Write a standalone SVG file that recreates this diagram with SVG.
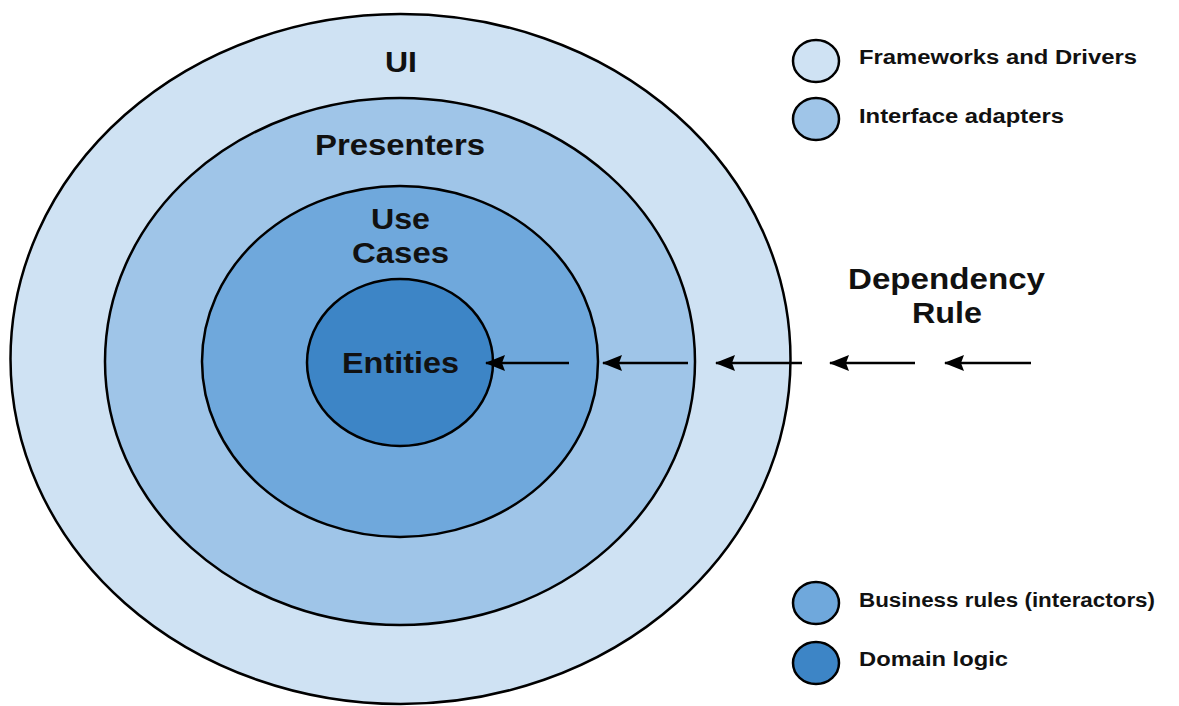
<svg xmlns="http://www.w3.org/2000/svg" width="1179" height="706" viewBox="0 0 1179 706">
  <style>
    .ring { stroke: #000; stroke-width: 2.5; }
    .l1 { fill: #cfe2f3; }
    .l2 { fill: #9fc5e8; }
    .l3 { fill: #6fa8dc; }
    .l4 { fill: #3d85c6; }
    .title { font-family: "Liberation Sans", Arial, sans-serif; font-weight: bold; font-size: 29px; fill: #111; text-anchor: middle; }
    .legend { font-family: "Liberation Sans", Arial, sans-serif; font-weight: bold; font-size: 19.5px; fill: #111; }
    .key { stroke: #000; stroke-width: 2.5; }
    .dep { stroke: #000; stroke-width: 2.5; fill: none; marker-start: url(#head); }
  </style>
  <defs>
    <marker id="head" viewBox="0 0 20 16" refX="1" refY="8" markerWidth="20" markerHeight="16" markerUnits="userSpaceOnUse" orient="auto">
      <path d="M0,8 L20,0 L17,8 L20,16 Z" fill="#000"/>
    </marker>
  </defs>

  <rect width="1179" height="706" fill="#fff"/>

  <g id="frameworks-ring">
    <ellipse class="ring l1" cx="400.5" cy="359" rx="390" ry="345"/>
    <text class="title" x="401" y="72" textLength="32" lengthAdjust="spacingAndGlyphs">UI</text>
  </g>
  <g id="adapters-ring">
    <ellipse class="ring l2" cx="400" cy="361.5" rx="295" ry="263.5"/>
    <text class="title" x="400" y="155" textLength="170" lengthAdjust="spacingAndGlyphs">Presenters</text>
  </g>
  <g id="usecases-ring">
    <ellipse class="ring l3" cx="400" cy="361.5" rx="198" ry="175.5"/>
    <text class="title" x="400.5" y="229" textLength="59" lengthAdjust="spacingAndGlyphs">Use</text>
    <text class="title" x="400.5" y="263" textLength="97" lengthAdjust="spacingAndGlyphs">Cases</text>
  </g>
  <g id="entities-core">
    <ellipse class="ring l4" cx="400" cy="362.5" rx="93" ry="83.5"/>
    <text class="title" x="400.5" y="373" textLength="117" lengthAdjust="spacingAndGlyphs">Entities</text>
  </g>

  <g id="dependency-rule">
    <text class="title" x="946.5" y="289" textLength="197" lengthAdjust="spacingAndGlyphs">Dependency</text>
    <text class="title" x="947" y="323" textLength="70" lengthAdjust="spacingAndGlyphs">Rule</text>
  </g>

  <g id="connectors">
    <line class="dep" x1="486" y1="363" x2="569" y2="363"/>
    <line class="dep" x1="603" y1="363" x2="688" y2="363"/>
    <line class="dep" x1="716" y1="363" x2="802" y2="363"/>
    <line class="dep" x1="830" y1="363" x2="915" y2="363"/>
    <line class="dep" x1="945" y1="363" x2="1031" y2="363"/>
  </g>

  <g id="legend-frameworks">
    <ellipse class="key l1" cx="816" cy="61" rx="23" ry="21"/>
    <text class="legend" x="859" y="64" textLength="278" lengthAdjust="spacingAndGlyphs">Frameworks and Drivers</text>
  </g>
  <g id="legend-adapters">
    <ellipse class="key l2" cx="816" cy="119" rx="23" ry="21"/>
    <text class="legend" x="859" y="123" textLength="205" lengthAdjust="spacingAndGlyphs">Interface adapters</text>
  </g>
  <g id="legend-business">
    <ellipse class="key l3" cx="816" cy="603" rx="23" ry="21"/>
    <text class="legend" x="859" y="607" textLength="296" lengthAdjust="spacingAndGlyphs">Business rules (interactors)</text>
  </g>
  <g id="legend-domain">
    <ellipse class="key l4" cx="816" cy="663" rx="23" ry="21"/>
    <text class="legend" x="859" y="666" textLength="149" lengthAdjust="spacingAndGlyphs">Domain logic</text>
  </g>
</svg>
